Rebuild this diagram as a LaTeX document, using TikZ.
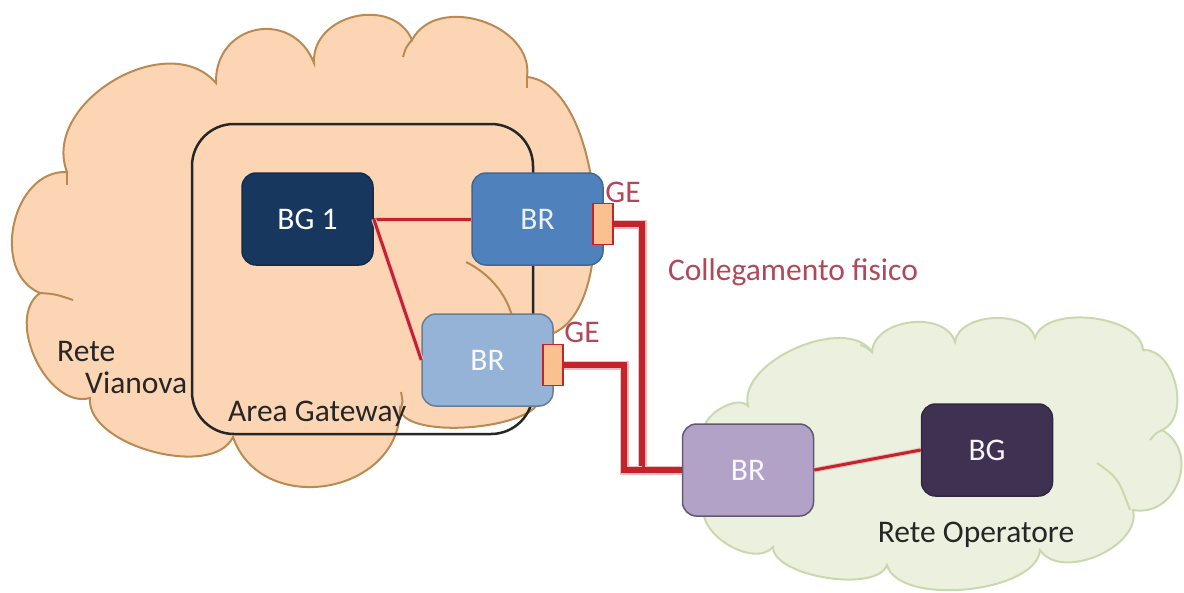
\documentclass[tikz,border=0pt]{standalone}
\usepackage{fontspec}
\setmainfont{Carlito}
\usepackage{tikz}
\usetikzlibrary{backgrounds,calc}
\pgfdeclarelayer{background}
\pgfsetlayers{background,main}

\definecolor{peach}{HTML}{FCD5B5}
\definecolor{peachline}{HTML}{BA8A52}
\definecolor{sage}{HTML}{EBF1DE}
\definecolor{sageline}{HTML}{CAD8AE}
\definecolor{navy}{HTML}{17375E}
\definecolor{midblue}{HTML}{4F81BD}
\definecolor{lightblue}{HTML}{95B3D7}
\definecolor{lilac}{HTML}{B3A2C7}
\definecolor{plum}{HTML}{3F3151}
\definecolor{linkred}{HTML}{C3232B}
\definecolor{linkhalo}{HTML}{F2BDBD}
\definecolor{labelred}{HTML}{B0485A}
\definecolor{portfill}{HTML}{FAC090}
\definecolor{darktext}{HTML}{262626}

\begin{document}
\begin{tikzpicture}[x=1pt, y=-1pt,
        every node/.style={font=\fontsize{31.5}{36}\selectfont},
        box/.style={rectangle, rounded corners=14pt, minimum width=131pt, minimum height=92pt, line width=1.5pt},
        port/.style={rectangle, draw=linkred, fill=portfill, line width=1.5pt, minimum width=20pt, minimum height=41pt, inner sep=0pt},
        link/.style={draw=linkred, line width=3pt, preaction={draw=linkhalo, line width=5pt}},
        physlink/.style={draw=linkred, line width=6pt, preaction={draw=linkhalo, line width=9pt}},
        peachcloud/.style={fill=peach, draw=peachline, line width=2pt},
        sagecloud/.style={fill=sage, draw=sageline, line width=2pt},
        lbl/.style={text=darktext, inner sep=0pt},
        redlbl/.style={text=labelred, inner sep=0pt}]

    \useasboundingbox (0,0) rectangle (1184,592);

    \begin{pgfonlayer}{background}
        % Rete Vianova
        \path[peachcloud] (67,172) to[bend left=80, looseness=1.09] (216,83)
            to[bend left=80, looseness=1.52] (314,63)
            to[bend left=80, looseness=1.24] (412,40)
            to[bend left=80, looseness=1.13] (527,77)
            to[bend left=80, looseness=0.76] (548,335)
            -- (540,398)
            to[bend left=80, looseness=0.57] (400,410)
            to[bend left=80, looseness=1.29] (233,437)
            to[bend left=80, looseness=0.82] (90,398)
            to[bend left=80, looseness=0.97] (40,293)
            to[bend left=80, looseness=1.13] (67,172) -- cycle;
        \draw[peachline, line width=2pt] (466,262) .. controls (490,274) and (506,294) .. (512,316);
        \draw[peachline, line width=2pt] (400,410) .. controls (403,402) .. (401,392);
        \draw[peachline, line width=2pt] (40,293) .. controls (55,294) .. (73,300);
        \draw[peachline, line width=2pt] (412,40) .. controls (406,47) .. (403,57);
        \draw[peachline, line width=2pt] (527,77) -- (527,88);
        \draw[peachline, line width=2pt] (67,172) -- (67,185);
        % Rete Operatore
        \path[sagecloud] (705,432) to[bend left=80, looseness=0.83] (748,406)
            to[bend left=80, looseness=0.87] (872,352)
            to[bend left=80, looseness=1.03] (955,342)
            to[bend left=80, looseness=0.95] (1035,338)
            to[bend left=80, looseness=0.83] (1143,350)
            to[bend left=80, looseness=1.0] (1162,430)
            to[bend left=80, looseness=1.34] (1133,510)
            to[bend left=80, looseness=0.96] (1040,550)
            to[bend left=80, looseness=0.72] (887,565)
            to[bend left=80, looseness=0.66] (773,547)
            to[bend left=80, looseness=0.94] (705,505) -- cycle;
        \draw[sageline, line width=2pt] (1097,463) .. controls (1118,478) .. (1130,510);
        \draw[sageline, line width=2pt] (872,352) .. controls (866,347) .. (860,345);
        \draw[sageline, line width=2pt] (1162,430) .. controls (1156,433) .. (1150,440);
    \end{pgfonlayer}

    \draw[darktext, line width=2.5pt, rounded corners=42pt] (192,124) rectangle (533,434);

    \node[box, fill=navy, draw=navy!80!black, text=white] (bgone) at (307.5,219) {BG 1};
    \node[box, fill=midblue, draw=midblue!80!black, text=white!88!midblue] (brtop) at (537.5,219) {BR};
    \node[box, fill=lightblue, draw=lightblue!70!black, text=white!92!lightblue] (brlow) at (487.5,360) {BR};
    \node[box, fill=lilac, draw=lilac!55!black, text=white!92!lilac] (brop) at (748,470) {BR};
    \node[box, fill=plum, draw=plum!80!black, text=white!88!lilac] (bgop) at (987,450) {BG};

    \node[port] (geone) at (603,224) {};
    \node[port] (getwo) at (553,365) {};

    \coordinate (kone) at (642,470);
    \coordinate (ktwo) at (624,470);

    \draw[link] (bgone.east) -- (brtop.west);
    \draw[link] (bgone.east) -- (brlow.west);
    \draw[link] (brop.east) -- (bgop.west);
    \draw[physlink] (geone.east) -| (kone) -- (brop.west);
    \draw[physlink] (getwo.east) -| (ktwo) -- (kone);

    \node[redlbl, anchor=base] (geonelbl) at (623,202) {GE};
    \node[redlbl, anchor=base] (getwolbl) at (582,342) {GE};
    \node[redlbl, anchor=base] (physlbl) at (793,280) {Collegamento fisico};
    \node[lbl, anchor=base west] (retelbl) at (57,361) {Rete};
    \node[lbl, anchor=base west] (vianovalbl) at (85,393) {Vianova};
    \node[lbl, anchor=base west] (arealbl) at (228,421) {Area Gateway};
    \node[lbl, anchor=base] (operlbl) at (976,542) {Rete Operatore};

\end{tikzpicture}
\end{document}
